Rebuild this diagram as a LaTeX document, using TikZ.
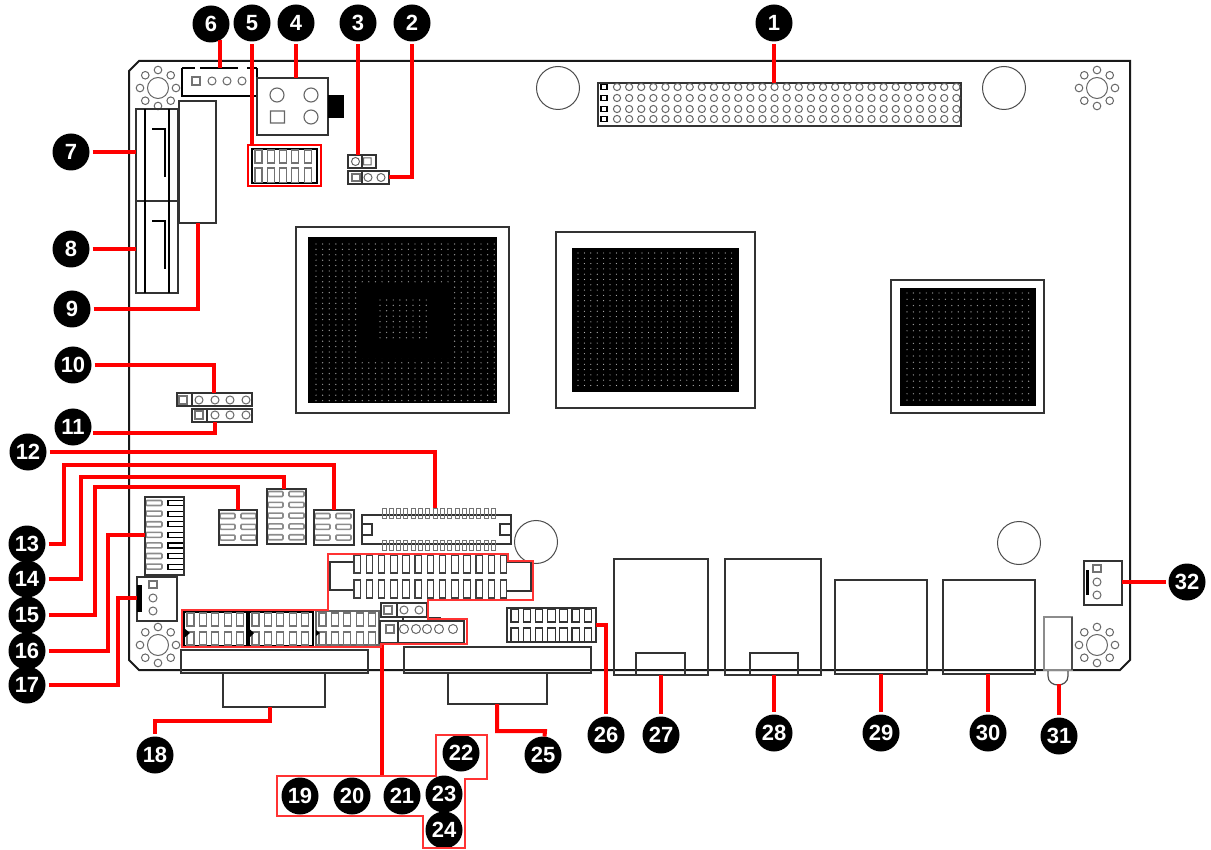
\documentclass[tikz,border=0pt]{standalone}
\usepackage{fontspec}
\setsansfont{Liberation Sans}
\usetikzlibrary{positioning,calc}

\begin{document}
\begin{tikzpicture}[
    x=1pt,y=-1pt,
    inner sep=0pt,outer sep=0pt, %corners stay on the typed numbers
    badge/.style={circle,fill=black,text=white,minimum size=37pt,
        font=\fontsize{22}{22}\selectfont\sffamily\bfseries},
    part/.style={draw=black!80,line width=1.2pt,anchor=north west},
    sz/.style 2 args={minimum width=#1pt,minimum height=#2pt},
    lead/.style={draw=red,line width=4pt,shorten <=3pt},
    ring/.style={draw=red!80,line width=1.2pt},
    pad/.style={draw=black!55,line width=1.1pt},
    rowpad/.style={draw=black!45,line width=1.6pt,rounded corners=1pt},
    hole/.style={draw=black!60,line width=1pt},
    dot/.style={fill=black!42},
    ]
    % board
    \draw[line width=2pt,black!90] (139,61) -- (1130,61) -- (1130,660) -- (1120,670)
        -- (139,670) -- (129,660) -- (129,71) -- cycle;
    % mounting holes
    \foreach \hx/\hy in {158/88,1097/88,158/645,1097/645} {
        \draw[hole] (\hx,\hy) circle[radius=10.5pt];
        \foreach \a in {0,45,...,315}
            \draw[hole] ($(\hx,\hy)+(\a:18pt)$) circle[radius=3.8pt];
    }
    \foreach \hx/\hy in {558/88,1004/88,536/542,1019/543}
        \draw[black!70,line width=1pt] (\hx,\hy) circle[radius=21.5pt];

    % chips
    \node[part] (cpu) at (296,227) [sz={213}{186}] {};
    \node[part,fill=black,draw=none] (cpucore) at (308,237) [sz={189}{166}] {};
    \foreach \i in {0,...,27}
        \foreach \j in {0,...,29}
            \fill[dot] ({316+6.6*\i},{244+5.4*\j}) circle[radius=0.7pt];
    \fill[black] (357,283) rectangle (450,358);
    \foreach \i in {0,...,7}
        \foreach \j in {0,...,7}
            \fill[dot] ({380+6.6*\i},{300+5.4*\j}) circle[radius=0.7pt];
    \node[part] (nb) at (556,232) [sz={199}{176}] {};
    \node[part,fill=black,draw=none] (nbcore) at (572,248) [sz={167}{144}] {};
    \foreach \i in {0,...,24}
        \foreach \j in {0,...,25}
            \fill[black!28] ({578+6.4*\i},{253+5.3*\j}) circle[radius=0.6pt];
    \node[part] (sb) at (891,280) [sz={153}{133}] {};
    \node[part,fill=black,draw=none] (sbcore) at (900,288) [sz={136}{118}] {};
    \foreach \i in {0,...,19}
        \foreach \j in {0,...,17}
            \fill[dot] ({907+6.4*\i},{293+6.3*\j}) circle[radius=0.7pt];

    % expansion header
    \node[part] (hdr) at (598,83) [sz={363}{43}] {};
    \foreach \j in {87,98,109,119} {
        \draw[pad,black] (601,\j-2.5) rectangle +(6,5);
        \foreach \i in {0,...,28}
            \draw[hole] ({617+12.12*\i},\j) circle[radius=3.6pt];
    }

    % power and top left parts
    \node[part,draw=none] (fanc) at (182,68) [sz={75}{28}] {};
    \draw[line width=1.8pt] (fanc.north west) -- (fanc.south west) -- (fanc.south east) -- (fanc.north east);
    \draw[line width=1.8pt,dash pattern=on 13pt off 5pt on 38pt off 9pt on 10pt] (fanc.north west) -- (fanc.north east);
    \draw[pad] (192,77) rectangle +(8,8);
    \foreach \i in {212,227,242}
        \draw[hole] (\i,81) circle[radius=4pt];
    \node[part] (pwr) at (257,78) [sz={71}{57}] {};
    \fill[black] (328,95) rectangle (344,118);
    \draw[hole,line width=1.1pt] (277,95) circle[radius=7pt] (311,95) circle[radius=7pt]
        (311,117) circle[radius=7pt] (270.5,111) rectangle +(14,12);
    \node[part] (cfs) at (179,101) [sz={37}{122}] {};
    \node[part,line width=1.5pt] (sata) at (136,109) [sz={42}{92}] {};
    \node[part,line width=1.5pt] (satb) at (136,201) [sz={42}{92}] {};
    \foreach \n/\y in {sata/109,satb/201} {
        \draw[line width=1.3pt] (145,\y) -- (145,\y+92) (169,\y) -- (169,\y+92);
        \draw[line width=1.8pt] (152,\y+20) -- (165,\y+20) -- (165,\y+68);
    }
    \node[part,draw=red,line width=2.5pt] (usbf) at (248,145) [sz={73}{41}] {};
    \draw[line width=1.2pt] (252,149) rectangle (317,183);
    \foreach \i in {0,...,4} {
        \draw[pad] ({255+12.3*\i},150) rectangle +(7,13);
        \draw[pad] ({255+12.3*\i},168) rectangle +(7,14.5);
    }
    \node[part] (jpa) at (348,155) [sz={28}{13}] {};
    \draw[part] (362,155) -- (362,168);
    \draw[hole] (355.5,161.5) circle[radius=4pt] (363.5,158) rectangle +(7.5,7);
    \node[part] (jpb) at (348,171) [sz={41}{13}] {};
    \draw[part] (362,171) -- (362,184);
    \draw[pad] (352,174) rectangle +(8,7);
    \draw[hole] (368,177.5) circle[radius=4pt] (381,177.5) circle[radius=4pt];

    % pin rows
    \node[part] (jpc) at (177,393) [sz={75}{13}] {};
    \draw[part] (192,393) -- (192,406);
    \draw[pad] (179,396) rectangle +(8,8);
    \node[part] (jpd) at (192,409) [sz={60}{13}] {};
    \draw[part] (207,409) -- (207,422);
    \draw[pad] (195,411) rectangle +(8,8);
    \foreach \i in {199,215,230,246}
        \draw[hole] (\i,400) circle[radius=4pt];
    \foreach \i in {215,230,246}
        \draw[hole] (\i,415) circle[radius=4pt];

    % small headers
    \foreach \bx/\by/\m in {219/516/2,267/494/4,314/516/2}
        \foreach \r in {0,...,\m} {
            \draw[rowpad] (\bx+1,{\by+10.8*\r-2.5}) rectangle +(15,5);
            \draw[rowpad] (\bx+22,{\by+10.8*\r-2.5}) rectangle +(15,5);
        }
    \node[part] (boxo) at (219,510) [sz={38}{35}] {};
    \node[part] (boxn) at (267,489) [sz={39}{55}] {};
    \node[part] (boxm) at (314,510) [sz={40}{35}] {};
    \foreach \r in {0,...,6} {
        \draw[rowpad] (146,{503+10.6*\r-2.5}) rectangle +(16,5);
        \draw[black,line width=1.2pt] (168,{503+10.6*\r-2.5}) rectangle +(16,5);
    }
    \node[part] (boxp) at (145,497) [sz={39}{78}] {};
    \node[part] (boxq) at (137,577) [sz={40}{44}] {};
    \fill[black] (137,585) rectangle (142,612);
    \draw[pad] (149,581) rectangle +(8,7);
    \draw[hole] (153,598) circle[radius=4pt] (153,611) circle[radius=4pt];

    % flat connector
    \node[part] (fpc) at (362,515) [sz={149}{29}] {};
    \foreach \i in {0,...,15} {
        \draw[pad,line width=0.9pt] ({382+7.3*\i},508) rectangle +(4,10);
        \draw[pad,line width=0.9pt] ({382+7.3*\i},540) rectangle +(4,10);
    }
    \draw[part] (362,524) -- (372,524) -- (372,535) -- (362,535);
    \draw[part] (511,524) -- (500,524) -- (500,535) -- (511,535);

    % long header
    \foreach \i in {0,...,12} {
        \draw[pad,black!75] ({354+12.2*\i},555) rectangle +(6.5,18);
        \draw[pad,black!75] ({354+12.2*\i},580) rectangle +(6.5,18);
    }
    \draw[part] (353,562) -- (330,562) -- (330,590) -- (353,590);
    \draw[part] (507,562) -- (531,562) -- (531,591) -- (507,591);
    \node[part,draw=none] (lpt) at (330,555) [sz={201}{44}] {};

    % com headers
    \node[part,black,line width=1.4pt] (coma) at (184,612) [sz={63}{34}] {};
    \node[part,black,line width=1.4pt] (comb) at (249,612) [sz={64}{34}] {};
    \node[part,black!60] (comc) at (316,611) [sz={63}{34}] {};
    \foreach \hx in {187,252,319}
        \foreach \i in {0,...,4} {
            \draw[pad] ({\hx+12.4*\i},613) rectangle +(7,13);
            \draw[pad] ({\hx+12.4*\i},632) rectangle +(7,13);
        }
    \fill[black] (184,628) -- (190,633) -- (184,638) -- cycle;
    \fill[black] (247,627) -- (254,633) -- (247,640) -- cycle;
    \fill[black] (316,630) -- (320,633) -- (316,636) -- cycle;

    \node[part] (jpe) at (381,603) [sz={46}{14}] {};
    \draw[part] (397,603) -- (397,617);
    \draw[pad] (384,606) rectangle +(8,8);
    \draw[hole] (404,610) circle[radius=4pt] (419,610) circle[radius=4pt];
    \node[part,line width=1.4pt] (jpf) at (380,621) [sz={84}{22}] {};
    \draw[part] (398,621) -- (398,643);
    \draw[part] (403,621) -- (403,617.5) -- (440,617.5) -- (440,621);
    \draw[pad] (386,625) rectangle +(8,8);
    \foreach \i in {404,416,427,439,453}
        \draw[hole] (\i,629) circle[radius=4.5pt];

    % right header
    \node[part,line width=1.4pt] (hdrr) at (507,608) [sz={89}{34}] {};
    \foreach \i in {0,...,6} {
        \draw[draw=black!80,line width=1.1pt] ({511+12.2*\i},609) rectangle +(7.5,13);
        \draw[draw=black!80,line width=1.1pt] ({511+12.2*\i},628) rectangle +(7.5,14);
    }

    % back panel
    \node[part] (dba) at (181,650) [sz={187}{23}] {};
    \node[part] (dbb) at (223,673) [sz={102}{34}] {};
    \node[part] (dbc) at (404,647) [sz={187}{26}] {};
    \node[part] (dbd) at (448,673) [sz={99}{31}] {};
    \node[part] (rja) at (614,559) [sz={94}{116}] {};
    \node[part] (rjb) at (725,559) [sz={96}{116}] {};
    \node[part] (taba) at (636,653) [sz={49}{22}] {};
    \node[part] (tabb) at (750,653) [sz={48}{22}] {};
    \node[part] (usba) at (835,580) [sz={92}{94}] {};
    \node[part] (usbb) at (943,580) [sz={92}{94}] {};
    \node[part,black!45] (jack) at (1044,617) [sz={28}{53}] {};
    \draw[black!70,line width=1.2pt] (1072,617) -- (1072,670);
    \draw[black!70,line width=1.2pt] (1048,671) -- (1048,676) .. controls (1048,688) and (1068,688) .. (1068,676) -- (1068,671);
    \coordinate (jacktip) at (1058,684);
    \node[part] (fanr) at (1084,561) [sz={38}{44}] {};
    \fill[black] (1086,570) rectangle (1089,595);
    \draw[pad] (1093,565) rectangle +(8,7);
    \draw[hole] (1097,582) circle[radius=4pt] (1097,595) circle[radius=4pt];

    % numbers
    \foreach \n/\x/\y in {1/774/23,2/412/23,3/358/23,4/296/23,5/252/23,6/211/24,
        7/71/152,8/71/249,9/72/309,10/73/365,11/73/427,12/28/452,13/27/544,
        14/27/579,15/27/615,16/27/651,17/27/685,18/155/755,19/300/796,20/352/796,
        21/402/796,22/461/753,23/444/794,24/444/830,25/543/755,26/606/735,
        27/661/735,28/774/733,29/881/733,30/988/733,31/1059/736,32/1187/582}
        \node[badge] (b\n) at (\x,\y) {\n};

    % leaders
    \coordinate (kc) at (214,393);
    \coordinate (kd) at (215,422);
    \coordinate (kl) at (435,508);
    \coordinate (km) at (64,465);
    \coordinate (kn) at (81,477);
    \coordinate (kn2) at (284,489);
    \coordinate (ko) at (95,487);
    \coordinate (kp) at (108,535);
    \coordinate (kq) at (118,598);
    \coordinate (kr) at (270,707);
    \coordinate (kr2) at (155,721);
    \coordinate (ky) at (497,704);
    \coordinate (ky2) at (545,731);
    \coordinate (kg1) at (382,644);
    \coordinate (kg2) at (382,776);
    \draw[lead] (b1) -- (b1 |- hdr.north);
    \draw[lead] (b2) |- (jpb.east);
    \draw[lead] (b3) -- (b3 |- jpa.north);
    \draw[lead] (b4) -- (b4 |- pwr.north);
    \draw[lead] (b5) -- (b5 |- usbf.north);
    \draw[lead,shorten <=0pt] (b6.-60) -- (b6.-60 |- fanc.north);
    \draw[lead] (b7) -- (b7 -| sata.west);
    \draw[lead] (b8) -- (b8 -| satb.west);
    \draw[lead] (b9) -| (cfs.south);
    \draw[lead] (b10) -| (kc);
    \draw[lead] (b11.-20) -| (kd);
    \draw[lead] (b12) -| (kl);
    \draw[lead] (b13) -| (km) -| (boxm.north);
    \draw[lead] (b14) -| (kn) -| (kn2);
    \draw[lead] (b15) -| (ko) -| (boxo.north);
    \draw[lead] (b16) -| (kp) -- (kp -| boxp.west);
    \draw[lead] (b17) -| (kq) -- (kq -| boxq.west);
    \draw[lead,shorten >=3pt,shorten <=0pt] (kr) |- (kr2) -- (b18);
    \draw[lead,shorten <=0pt] (ky) |- (ky2) -- (b25);
    \draw[lead] (b26) |- (hdrr.east);
    \draw[lead] (b27) -- (b27 |- rja.south);
    \draw[lead] (b28) -- (b28 |- rjb.south);
    \draw[lead] (b29) -- (b29 |- usba.south);
    \draw[lead] (b30) -- (b30 |- usbb.south);
    \draw[lead] (b31) -- (b31 |- jacktip);
    \draw[lead] (b32) -- (b32 -| fanr.east);
    \draw[lead,shorten <=0pt] (kg1) -- (kg2);

    % red groups
    \draw[ring] (182,610) -- (328,610) -- (328,554) -- (508,554) -- (508,561) -- (533,561)
        -- (533,600) -- (428,600) -- (428,619) -- (467,619) -- (467,644) -- (381,644)
        -- (381,647) -- (182,647) -- cycle;
    \draw[ring] (436,735) -- (487,735) -- (487,779) -- (465,779) -- (465,848) -- (423,848)
        -- (423,816) -- (277,816) -- (277,776) -- (436,776) -- cycle;
    \useasboundingbox (0,0) rectangle (1211,850);
\end{tikzpicture}
\end{document}
